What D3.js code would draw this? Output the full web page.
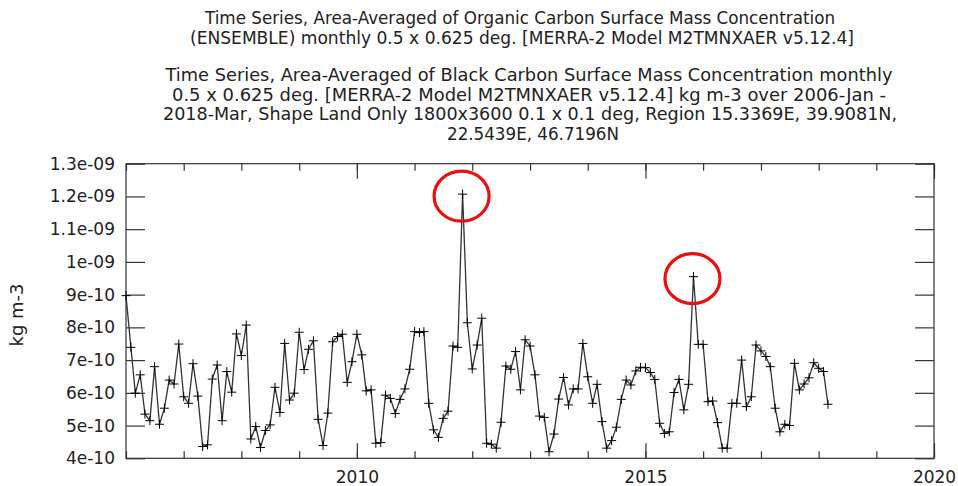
<!DOCTYPE html>
<html>
<head>
<meta charset="utf-8">
<script src="https://cdn.jsdelivr.net/npm/d3@7"></script>
<style>
  html, body { margin: 0; padding: 0; background: #fff; }
  svg text { font-family: "DejaVu Sans", sans-serif; fill: #222; }
</style>
</head>
<body>
<div id="chart"></div>
<script>
// monthly values, 2006-Jan .. 2018-Mar, in units of 1e-10 kg m-3
const startYear = 2006;
const values = [
  8.97, 7.39, 5.99, 6.55, 5.35, 5.15, 6.80, 5.04, 5.53, 6.39, 6.27, 7.49,
  5.88, 5.68, 6.89, 5.90, 4.36, 4.41, 6.42, 6.85, 5.15, 6.65, 6.02, 7.80,
  7.14, 8.07, 4.59, 4.97, 4.33, 4.85, 5.02, 6.17, 5.40, 7.51, 5.78, 5.99,
  7.85, 6.71, 7.33, 7.59, 5.19, 4.39, 5.38, 7.56, 7.72, 7.79, 6.32, 6.95,
  7.79, 7.16, 6.06, 6.09, 4.46, 4.48, 5.93, 5.83, 5.37, 5.80, 6.12, 6.72,
  7.87, 7.84, 7.87, 5.68, 4.87, 4.64, 5.22, 5.44, 7.43, 7.39, 12.07, 8.14,
  6.73, 7.46, 8.28, 4.46, 4.43, 4.31, 5.10, 6.82, 6.72, 7.26, 6.09, 7.62,
  7.43, 6.55, 5.29, 5.25, 4.20, 4.74, 5.81, 6.47, 5.63, 6.12, 6.12, 7.51,
  6.49, 5.68, 6.26, 5.12, 4.31, 4.54, 4.95, 5.80, 6.39, 6.24, 6.67, 6.78,
  6.77, 6.62, 6.41, 5.07, 4.76, 4.81, 6.01, 6.41, 5.48, 6.26, 9.55, 7.48,
  7.48, 5.73, 5.75, 5.09, 4.31, 4.31, 5.68, 5.68, 7.00, 5.58, 5.88, 7.46,
  7.28, 7.11, 6.80, 5.53, 4.81, 5.04, 5.00, 6.90, 6.09, 6.27, 6.46, 6.92,
  6.75, 6.65, 5.65
];

const yTicks = [4, 5, 6, 7, 8, 9, 10, 11, 12, 13];
const yTickLabels = ['4e-10', '5e-10', '6e-10', '7e-10', '8e-10', '9e-10', '1e-09', '1.1e-09', '1.2e-09', '1.3e-09'];
const xMajorYears = [2010, 2015, 2020];
const xMinorYears = d3.range(2006, 2021);
const highlighted = [70, 118]; // months circled in red

const titleLines = [
  'Time Series, Area-Averaged of Organic Carbon Surface Mass Concentration',
  '(ENSEMBLE) monthly 0.5 x 0.625 deg. [MERRA-2 Model M2TMNXAER v5.12.4]',
  'Time Series, Area-Averaged of Black Carbon Surface Mass Concentration monthly',
  '0.5 x 0.625 deg. [MERRA-2 Model M2TMNXAER v5.12.4] kg m-3 over 2006-Jan -',
  '2018-Mar, Shape Land Only 1800x3600 0.1 x 0.1 deg, Region 15.3369E, 39.9081N,',
  '22.5439E, 46.7196N'
];
// layout of each title line: centre x, baseline y, width
const titleX = [520, 522, 529, 529, 530, 533];
const titleY = [24, 44, 81, 100.5, 120, 139.5];
const titleW = [630, 664, 727, 714, 734, 172];

const W = 958, H = 486;
const margin = { top: 163.7, left: 126, right: 24, bottom: 27.7 };
const width = W - margin.left - margin.right;
const height = H - margin.top - margin.bottom;

const data = values.map((v, i) => ({ date: new Date(Date.UTC(startYear, i, 1)), v: v }));

const svg = d3.select('#chart').append('svg')
  .attr('width', W).attr('height', H);

// titles
svg.selectAll('text.title').data(titleLines).enter()
  .append('text').attr('class', 'title')
  .attr('x', (d, i) => titleX[i])
  .attr('y', (d, i) => titleY[i])
  .attr('text-anchor', 'middle')
  .attr('textLength', (d, i) => titleW[i])
  .attr('lengthAdjust', 'spacingAndGlyphs')
  .style('font-size', '17px')
  .text(d => d);

const g = svg.append('g').attr('transform', `translate(${margin.left},${margin.top})`);

const x = d3.scaleUtc()
  .domain([new Date(Date.UTC(2006, 0, 1)), new Date(Date.UTC(2020, 0, 1))])
  .range([0, width]);
const y = d3.scaleLinear().domain([4, 13]).range([height, 0]);

// frame
g.append('rect').attr('width', width).attr('height', height)
  .attr('fill', 'none').attr('stroke', '#333').attr('stroke-width', 1.2);

// y ticks on both sides, pointing inward
const yAxisL = d3.axisLeft(y).tickValues(yTicks).tickSize(-19)
  .tickFormat((d, i) => yTickLabels[i]).tickPadding(11);
const yAxisR = d3.axisRight(y).tickValues(yTicks).tickSize(-19).tickFormat('');
g.append('g').call(yAxisL).call(s => s.select('.domain').remove());
g.append('g').attr('transform', `translate(${width},0)`).call(yAxisR)
  .call(s => s.select('.domain').remove());

// x ticks (minor per year, major 2010/2015/2020), top and bottom
const minorDates = xMinorYears.map(d => new Date(Date.UTC(d, 0, 1)));
const majorDates = xMajorYears.map(d => new Date(Date.UTC(d, 0, 1)));
g.append('g').attr('transform', `translate(0,${height})`)
  .call(d3.axisBottom(x).tickValues(minorDates).tickSize(-7).tickFormat(''))
  .call(s => s.select('.domain').remove());
g.append('g')
  .call(d3.axisTop(x).tickValues(minorDates).tickSize(-7).tickFormat(''))
  .call(s => s.select('.domain').remove());
g.append('g').attr('transform', `translate(0,${height})`)
  .call(d3.axisBottom(x).tickValues(majorDates).tickSize(-15)
    .tickFormat(d3.utcFormat('%Y')).tickPadding(13))
  .call(s => s.select('.domain').remove());
g.append('g')
  .call(d3.axisTop(x).tickValues(majorDates).tickSize(-15).tickFormat(''))
  .call(s => s.select('.domain').remove());

g.selectAll('.tick line').attr('stroke', '#333').attr('stroke-width', 1.2);
g.selectAll('.tick text').style('font-size', '17px').style('fill', '#222')
  .style('font-family', '"DejaVu Sans", sans-serif');

// y label
svg.append('text')
  .attr('transform', `translate(23,${margin.top + height / 2 + 4}) rotate(-90)`)
  .attr('text-anchor', 'middle')
  .style('font-size', '18px')
  .text('kg m-3');

// series line
const line = d3.line().x(d => x(d.date)).y(d => y(d.v));
g.append('path').datum(data)
  .attr('fill', 'none').attr('stroke', '#333').attr('stroke-width', 1.3)
  .attr('d', line);

// plus markers
const mk = 4.5;
g.selectAll('path.mk').data(data).enter().append('path')
  .attr('class', 'mk')
  .attr('d', d => {
    const px = x(d.date), py = y(d.v);
    return `M${px - mk},${py}H${px + mk}M${px},${py - mk}V${py + mk}`;
  })
  .attr('stroke', '#000').attr('stroke-width', 1);

// red circles round the peaks
g.selectAll('ellipse.hl').data(highlighted).enter().append('ellipse')
  .attr('class', 'hl')
  .attr('cx', i => x(data[i].date) - 1)
  .attr('cy', i => y(data[i].v) + 2)
  .attr('rx', 27.5).attr('ry', 25)
  .attr('fill', 'none').attr('stroke', '#e8110f').attr('stroke-width', 3.2);
</script>
</body>
</html>
